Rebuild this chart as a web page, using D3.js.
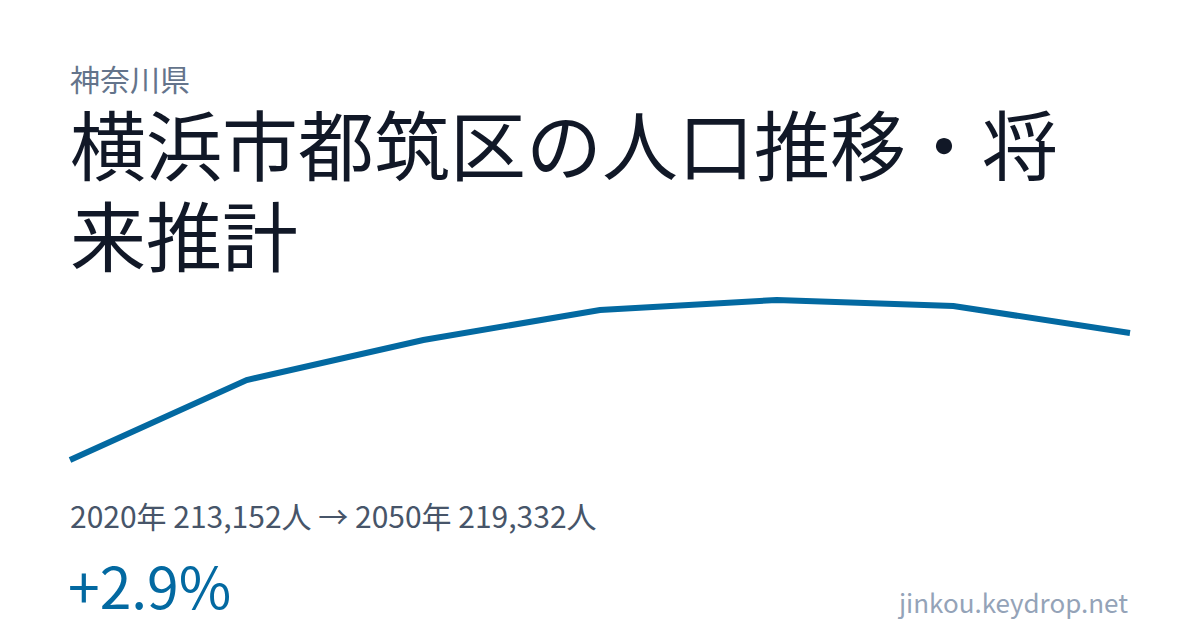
<!DOCTYPE html>
<html lang="ja">
<head>
<meta charset="UTF-8">
<title>横浜市都筑区の人口推移・将来推計</title>
<script src="https://d3js.org/d3.v7.min.js"></script>
<style>
  html, body { margin: 0; padding: 0; background: #fff; }
  svg { display: block; font-family: "Noto Sans CJK JP", "Noto Sans", sans-serif; }
  .pref { fill: #64748b; font-size: 30px; }
  .title { fill: #111827; font-size: 76px; }
  .stats { fill: #475569; font-size: 30px; }
  .change { fill: #0369a1; font-size: 57px; }
  .site { fill: #94a3b8; font-size: 26px; }
  .line { fill: none; stroke: #0369a1; stroke-width: 6; stroke-linejoin: miter; }
</style>
</head>
<body>
<script>
  // data
  var years = [2020, 2025, 2030, 2035, 2040, 2045, 2050];
  var population = [213152, 217044, 218989, 220449, 220935, 220643, 219332];

  var prefName = "神奈川県";
  var titleText = "横浜市都筑区の人口推移・将来推計";
  var siteName = "jinkou.keydrop.net";

  var width = 1200, height = 630;
  var left = 70, right = 1130;

  var svg = d3.select("body").append("svg")
      .attr("width", width)
      .attr("height", height);

  // header
  svg.append("text")
      .attr("class", "pref")
      .attr("x", left)
      .attr("y", 91)
      .text(prefName);

  // title, wrapped by measuring; one text per line
  var maxWidth = width - 2 * left;
  var measure = svg.append("text").attr("class", "title").attr("x", -9999);
  var lines = [], current = "";
  Array.from(titleText).forEach(function(c) {
    measure.text(current + c);
    if (measure.node().getComputedTextLength() > maxWidth && current.length) {
      lines.push(current);
      current = c;
    } else {
      current += c;
    }
  });
  lines.push(current);
  measure.remove();

  svg.selectAll("text.title")
    .data(lines)
    .join("text")
      .attr("class", "title")
      .attr("x", left)
      .attr("y", function(d, i) { return 175 + i * 91; })
      .text(function(d) { return d; });

  // line chart
  var x = d3.scaleLinear()
      .domain(d3.extent(years))
      .range([left, right]);

  var y = d3.scaleLinear()
      .domain(d3.extent(population))
      .range([460, 300]);

  var line = d3.line()
      .x(function(d, i) { return x(years[i]); })
      .y(function(d) { return y(d); });

  svg.append("path")
      .datum(population)
      .attr("class", "line")
      .attr("d", line);

  // summary
  var first = population[0], last = population[population.length - 1];
  var fmt = d3.format(",");
  svg.append("text")
      .attr("class", "stats")
      .attr("x", left)
      .attr("y", 528)
      .text(years[0] + "年 " + fmt(first) + "人 → " + years[years.length - 1] + "年 " + fmt(last) + "人");

  var pct = (last - first) / first * 100;
  svg.append("text")
      .attr("class", "change")
      .attr("x", left - 2)
      .attr("y", 609)
      .text((pct >= 0 ? "+" : "") + pct.toFixed(1) + "%");

  svg.append("text")
      .attr("class", "site")
      .attr("x", right - 2)
      .attr("y", 613)
      .attr("text-anchor", "end")
      .text(siteName);
</script>
</body>
</html>
